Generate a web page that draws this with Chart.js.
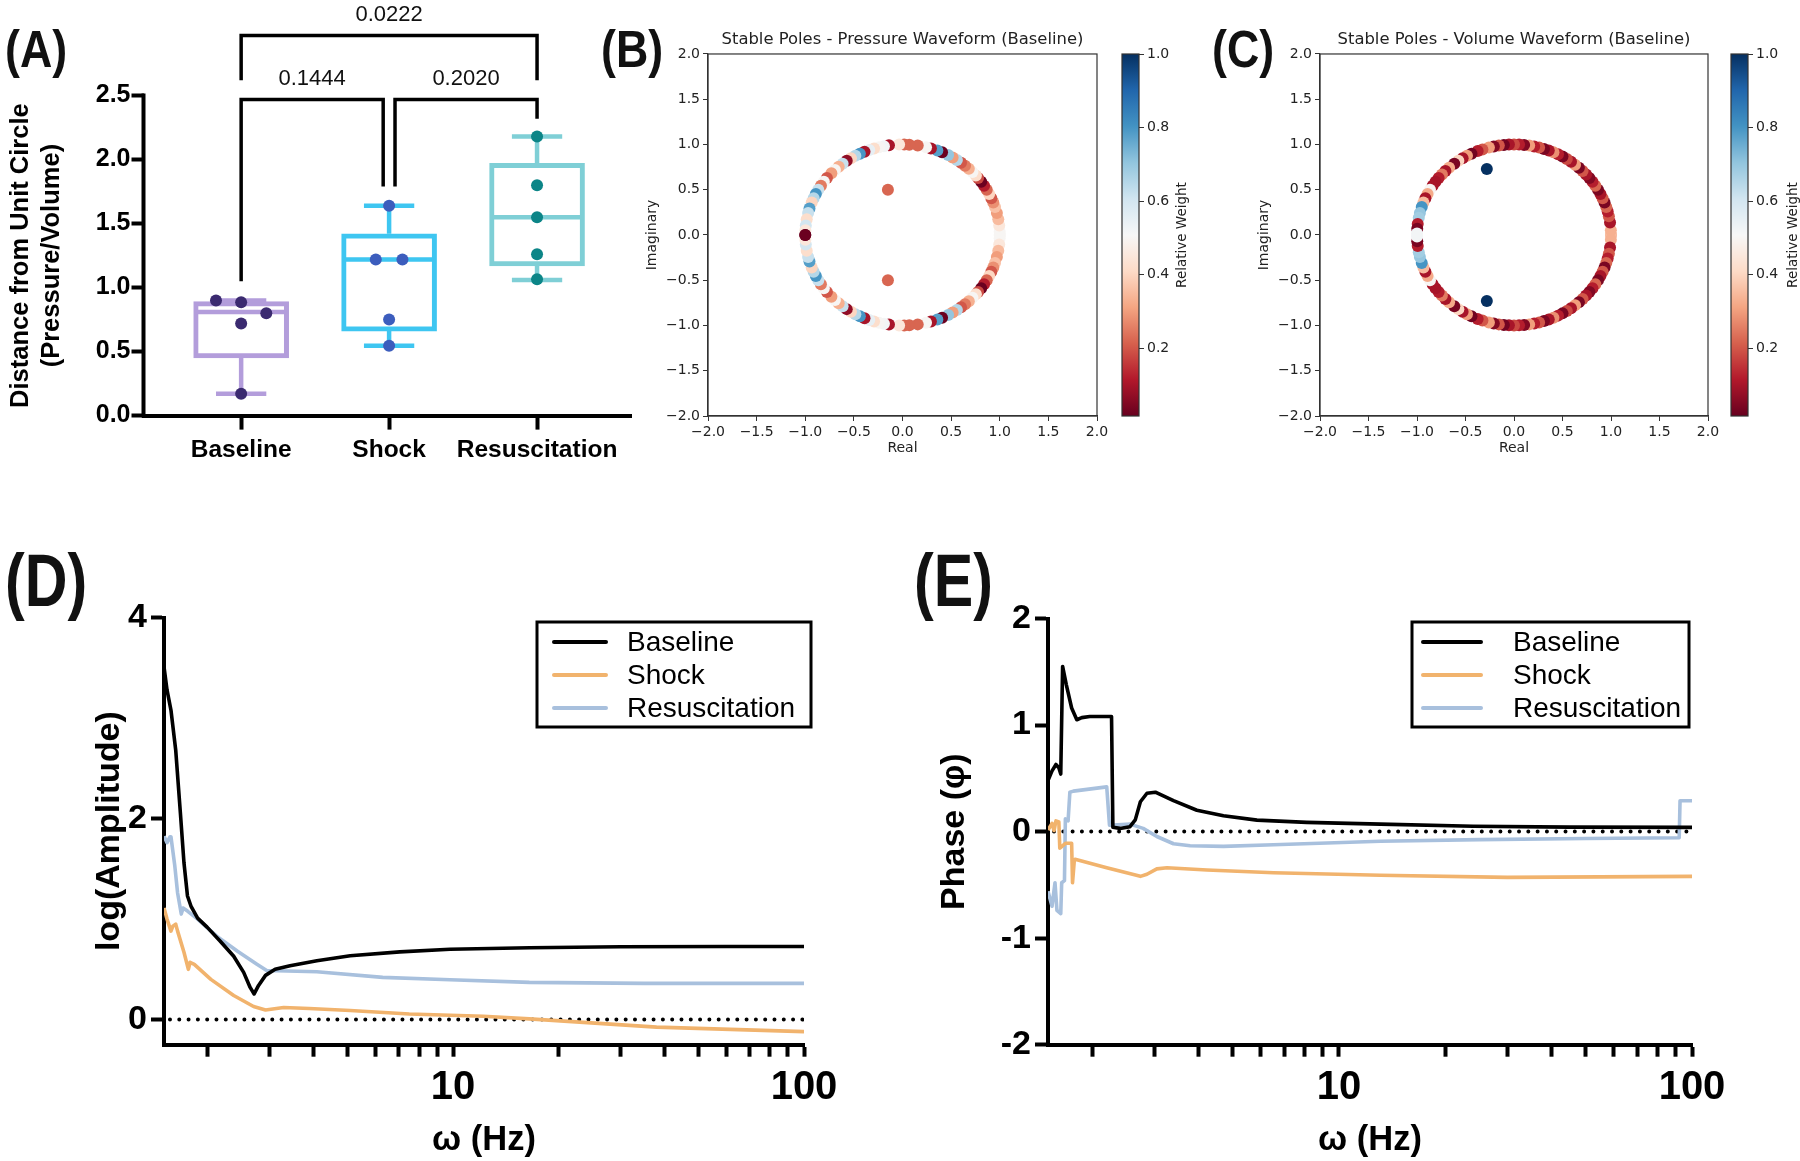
<!DOCTYPE html>
<html>
<head>
<meta charset="utf-8">
<script src="https://cdn.jsdelivr.net/npm/chart.js@4.4.1/dist/chart.umd.min.js"></script>
<style>
  body { margin: 0; background: #fff; width: 1800px; height: 1161px; position: relative; overflow: hidden; }
  canvas { position: absolute; }
  .tag { position: absolute; font-family: 'Liberation Sans', Arial, sans-serif; font-weight: bold; line-height: 1; transform-origin: left top; color: #111; }
</style>
</head>
<body>
<div class="tag" style="left:5px;top:23px;font-size:52px;transform:scaleX(0.86)">(A)</div>
<div class="tag" style="left:601px;top:23px;font-size:52px;transform:scaleX(0.86)">(B)</div>
<div class="tag" style="left:1212px;top:23px;font-size:52px;transform:scaleX(0.86)">(C)</div>
<div class="tag" style="left:5px;top:544px;font-size:74px;transform:scaleX(0.8)">(D)</div>
<div class="tag" style="left:914px;top:544px;font-size:74px;transform:scaleX(0.8)">(E)</div>

<canvas id="cA" width="650" height="470" style="left:0;top:0"></canvas>
<canvas id="cB" width="470" height="440" style="left:640px;top:20px"></canvas>
<canvas id="cBbar" width="100" height="440" style="left:1110px;top:20px"></canvas>
<canvas id="cC" width="470" height="440" style="left:1252px;top:20px"></canvas>
<canvas id="cCbar" width="81" height="440" style="left:1719px;top:20px"></canvas>
<canvas id="cD" width="870" height="601" style="left:0;top:560px"></canvas>
<canvas id="cE" width="850" height="601" style="left:900px;top:560px"></canvas>

<script>
// ---------- (A) distance from unit circle, box plots ----------
const groups = ['Baseline', 'Shock', 'Resuscitation'];
const boxQ1 = [0.45, 0.66, 1.17];
const boxMedian = [0.81, 1.22, 1.55];
const boxQ3 = [0.89, 1.42, 1.97];
const boxMin = [0.17, 0.545, 1.06];
const boxMax = [0.90, 1.64, 2.18];
const baselinePts = [0.90, 0.886, 0.80, 0.72, 0.17];
const shockPts = [1.64, 1.22, 1.22, 0.75, 0.545];
const resusPts = [2.18, 1.80, 1.55, 1.26, 1.065];
const ptJitter = [[-0.17, 0, 0.17, 0, 0], [0, -0.09, 0.09, 0, 0], [0, 0, 0, 0, 0]];
const yTicksA = [0, 0.5, 1, 1.5, 2, 2.5];
const yTitleA = ['Distance from Unit Circle', '(Pressure/Volume)'];

// significance brackets
const bracketPairs = [[0, 1], [1, 2], [0, 2]];
const bracketTop = [2.47, 2.47, 2.97];
const bracketLegEnds = [[1.05, 1.79], [1.79, 2.32], [2.62, 2.62]];
const pLabels = ['0.1444', '0.2020', '0.0222'];

// ---------- (B)/(C) stable poles: [angle on unit circle in degrees, relative weight] ----------
// upper half plane; poles come in conjugate pairs
const polesPressure = [
  [0, 0.5], [2, 0.5], [6, 0.45], [10, 0.35], [14, 0.3], [18, 0.36], [21, 0.28], [24, 0.2], [27, 0.4],
  [30, 0.22], [33, 0.12], [36, 0.02], [39, 0.18], [41, 0.42], [44, 0.5], [47, 0.33], [50, 0.25],
  [53, 0.2], [56, 0.65], [59, 0.3], [62, 0.7], [66, 0.02], [69, 0.78], [73, 0.1], [76, 0.5],
  [81, 0.22], [86, 0.22], [89, 0.22], [92, 0.45], [98, 0.1], [101, 0.52], [104, 0.5], [107, 0.42],
  [110, 0.55], [113, 0.1], [116, 0.8], [119, 0.65], [122, 0.4], [125, 0.07], [128, 0.62],
  [131, 0.33], [134, 0.5], [137, 0.3], [141, 0.2], [144, 0.5], [147, 0.25], [150, 0.62],
  [153, 0.8], [156, 0.65], [159, 0.4], [163, 0.78], [166, 0.62], [170, 0.42], [174, 0.6],
  [177, 0.45], [180, 0.02]
];
const innerPressure = [[-0.15, 0.5, 0.22]];   // [real, imaginary, weight]

const polesVolume = [
  [0, 0.35], [3, 0.33], [8, 0.1], [12, 0.2], [15, 0.12], [18, 0.22], [21, 0.04], [24, 0.2], [27, 0.1],
  [30, 0.04], [33, 0.22], [36, 0.12], [39, 0.05], [42, 0.1], [45, 0.2], [48, 0.04], [51, 0.3],
  [54, 0.1], [57, 0.18], [60, 0.04], [63, 0.12], [66, 0.28], [69, 0.1], [72, 0.04], [75, 0.2],
  [78, 0.12], [81, 0.3], [84, 0.05], [87, 0.12], [90, 0.18], [93, 0.1], [96, 0.03], [99, 0.2],
  [102, 0.05], [105, 0.3], [109, 0.2], [112, 0.12], [116, 0.03], [119, 0.3], [122, 0.1],
  [125, 0.4], [128, 0.04], [132, 0.32], [135, 0.1], [138, 0.25], [141, 0.12], [144, 0.1],
  [147, 0.1], [150, 0.5], [153, 0.32], [156, 0.1], [159, 0.35], [162, 0.8], [166, 0.7],
  [169, 0.68], [173, 0.12], [176, 0.04], [179, 0.52]
];
const innerVolume = [[-0.28, 0.73, 1.0]];

const axisTicksPoles = [-2, -1.5, -1, -0.5, 0, 0.5, 1, 1.5, 2];
const cbMin = 0.015, cbMax = 1.0;
const cbTicks = [0.2, 0.4, 0.6, 0.8, 1.0];

// ---------- (D) log(Amplitude) vs frequency ----------
const ampHzBaseline = [1.5, 1.53, 1.57, 1.62, 1.67, 1.71, 1.75, 1.79, 1.87, 1.99, 2.17, 2.37, 2.53, 2.64, 2.71, 2.79, 2.92, 3.11, 3.43, 4.09, 5.09, 7.05, 9.8, 16.5, 30, 60, 100];
const ampBaseline = [3.51, 3.28, 3.08, 2.68, 2.06, 1.56, 1.23, 1.13, 1.01, 0.92, 0.78, 0.63, 0.47, 0.32, 0.255, 0.34, 0.44, 0.50, 0.535, 0.585, 0.635, 0.674, 0.70, 0.715, 0.725, 0.727, 0.727];
const ampHzShock = [1.5, 1.53, 1.57, 1.59, 1.62, 1.64, 1.71, 1.76, 1.78, 1.83, 2.04, 2.37, 2.70, 2.92, 3.29, 3.89, 5.09, 7.5, 12.2, 16.5, 38, 100];
const ampShock = [1.11, 1.0, 0.88, 0.93, 0.95, 0.88, 0.67, 0.50, 0.57, 0.55, 0.40, 0.24, 0.13, 0.096, 0.12, 0.11, 0.09, 0.056, 0.033, 0.007, -0.075, -0.12];
const ampHzResus = [1.5, 1.53, 1.56, 1.57, 1.61, 1.64, 1.68, 1.70, 1.75, 1.87, 2.12, 2.43, 2.76, 2.95, 3.15, 4.09, 6.3, 9.8, 16.5, 35, 100];
const ampResus = [1.825, 1.76, 1.82, 1.82, 1.53, 1.26, 1.05, 1.11, 1.08, 1.0, 0.83, 0.68, 0.55, 0.486, 0.486, 0.476, 0.42, 0.397, 0.37, 0.36, 0.36];
const ampTicks = [0, 2, 4];

// ---------- (E) phase vs frequency ----------
const phaseHzBaseline = [1.5, 1.54, 1.58, 1.61, 1.63, 1.65, 1.69, 1.75, 1.81, 1.87, 1.97, 2.27, 2.29, 2.40, 2.56, 2.65, 2.74, 2.86, 3.02, 3.40, 3.96, 4.71, 5.86, 8.11, 13.1, 24, 45, 100];
const phaseBaseline = [0.48, 0.57, 0.63, 0.60, 0.54, 1.55, 1.38, 1.16, 1.05, 1.07, 1.08, 1.08, 0.04, 0.03, 0.046, 0.11, 0.28, 0.36, 0.37, 0.29, 0.20, 0.148, 0.108, 0.087, 0.07, 0.05, 0.042, 0.04];
const phaseHzShock = [1.5, 1.54, 1.56, 1.58, 1.61, 1.62, 1.64, 1.68, 1.75, 1.76, 1.78, 1.79, 2.20, 2.74, 2.86, 3.05, 3.26, 4.23, 6.53, 13.1, 30, 100];
const phaseShock = [0.015, 0.077, 0.01, 0.1, 0.09, -0.155, -0.14, -0.11, -0.11, -0.48, -0.28, -0.26, -0.34, -0.42, -0.40, -0.35, -0.34, -0.36, -0.386, -0.41, -0.43, -0.42];
const phaseHzResus = [1.5, 1.54, 1.57, 1.59, 1.63, 1.64, 1.67, 1.68, 1.71, 1.73, 1.77, 2.20, 2.24, 2.56, 2.79, 3.05, 3.40, 3.79, 4.71, 6.53, 13.1, 25, 50, 92, 92.5, 100];
const phaseResus = [-0.56, -0.70, -0.48, -0.74, -0.77, -0.48, -0.46, 0.12, 0.10, 0.37, 0.38, 0.42, 0.06, 0.07, 0.03, -0.046, -0.114, -0.133, -0.139, -0.124, -0.09, -0.075, -0.065, -0.058, 0.29, 0.29];
const phaseTicks = [-2, -1, 0, 1, 2];

const zeroLineHz = [1.56, 99];
const freqTicks = [2, 3, 4, 5, 6, 7, 8, 9, 10, 20, 30, 40, 50, 60, 70, 80, 90, 100];
const freqLabels = { 10: '10', 100: '100' };

// ---------- shared styling ----------
const PRISM = "'Liberation Sans', Arial, sans-serif";
const MPL = "'DejaVu Sans', sans-serif";
const boxColors = ['#b39ddb', '#3ec6f1', '#7fcfd6'];
const dotColors = ['#3b2a70', '#3c5dbd', '#0c8587'];
const lineColors = { Baseline: '#000000', Shock: '#f1b36d', Resuscitation: '#a8c0dd' };
const RDBU = ['#67001f', '#b2182b', '#d6604d', '#f4a582', '#fddbc7', '#f7f7f7', '#d1e5f0', '#92c5de', '#4393c3', '#2166ac', '#053061'];

function hexRgb(h) { return [1, 3, 5].map(i => parseInt(h.slice(i, i + 2), 16)); }
function weightColor(w) {
  let t = (w - cbMin) / (cbMax - cbMin);
  t = Math.min(1, Math.max(0, t));
  const f = t * (RDBU.length - 1);
  const k = Math.min(RDBU.length - 2, Math.floor(f));
  const u = f - k;
  const a = hexRgb(RDBU[k]), b = hexRgb(RDBU[k + 1]);
  return 'rgb(' + a.map((v, j) => Math.round(v + (b[j] - v) * u)).join(',') + ')';
}
const mplTick = v => (v < 0 ? '\u2212' : '') + Math.abs(v).toFixed(1);

// the chart area is placed by layout padding only, not by label overhang
function noPad(s) { s.paddingLeft = 0; s.paddingRight = 0; s.paddingTop = 0; s.paddingBottom = 0; }

// ================= (A) =================
const CAP = 0.17, HALF = 0.3, LEG = 0.04;

function whiskerData(i) {
  const gap = { x: i, y: null };
  return [
    { x: i, y: boxQ3[i] }, { x: i, y: boxMax[i] }, gap,
    { x: i - CAP, y: boxMax[i] }, { x: i + CAP, y: boxMax[i] }, gap,
    { x: i, y: boxQ1[i] }, { x: i, y: boxMin[i] }, gap,
    { x: i - CAP, y: boxMin[i] }, { x: i + CAP, y: boxMin[i] }, gap,
    { x: i - HALF, y: boxMedian[i] }, { x: i + HALF, y: boxMedian[i] }
  ];
}

function bracketX(pair) {
  const [a, b] = pair;
  return [a + (a === 1 ? LEG : 0), b - (b === 1 ? LEG : 0)];
}

function bracketData() {
  const pts = [];
  bracketPairs.forEach((pair, k) => {
    const [xa, xb] = bracketX(pair);
    pts.push({ x: xa, y: bracketLegEnds[k][0] }, { x: xa, y: bracketTop[k] },
             { x: xb, y: bracketTop[k] }, { x: xb, y: bracketLegEnds[k][1] }, { x: xb, y: null });
  });
  return pts;
}

const groupPoints = [baselinePts, shockPts, resusPts];
const datasetsA = [];
groups.forEach((g, i) => {
  datasetsA.push({
    type: 'scatter', order: 0,
    data: groupPoints[i].map((v, k) => ({ x: i + ptJitter[i][k], y: v })),
    backgroundColor: dotColors[i], borderWidth: 0, pointRadius: 6, pointHoverRadius: 6
  });
  datasetsA.push({
    type: 'line', order: 1, data: whiskerData(i), borderColor: boxColors[i],
    borderWidth: 4.5, pointRadius: 0, spanGaps: false, borderCapStyle: 'butt'
  });
});
datasetsA.push({
  type: 'line', order: 1, data: bracketData(), borderColor: '#000', borderWidth: 3.5,
  pointRadius: 0, spanGaps: false, borderJoinStyle: 'miter'
});
datasetsA.push({
  type: 'bar', order: 2,
  data: groups.map((g, i) => ({ x: i, y: [boxQ1[i], boxQ3[i]] })),
  backgroundColor: '#fff', borderColor: boxColors, borderWidth: 5, borderSkipped: false,
  barThickness: 95
});

const axisA = {
  id: 'axisA',
  afterDraw(chart) {
    const { ctx, chartArea, scales: { x, y } } = chart;
    ctx.save();
    // y axis line stops at the last labelled tick
    ctx.strokeStyle = '#000';
    ctx.lineWidth = 4;
    ctx.beginPath();
    ctx.moveTo(chartArea.left, y.getPixelForValue(0) + 2);
    ctx.lineTo(chartArea.left, y.getPixelForValue(yTicksA[yTicksA.length - 1]) - 2);
    ctx.stroke();
    // p-values over the brackets
    ctx.fillStyle = '#111';
    ctx.font = '22px ' + PRISM;
    ctx.textAlign = 'center';
    ctx.textBaseline = 'middle';
    bracketPairs.forEach((pair, k) => {
      const [xa, xb] = bracketX(pair);
      ctx.fillText(pLabels[k], x.getPixelForValue((xa + xb) / 2), y.getPixelForValue(bracketTop[k] + 0.16));
    });
    // two line y title centred on the axis
    ctx.translate(0, y.getPixelForValue(1.25));
    ctx.rotate(-Math.PI / 2);
    ctx.font = 'bold 25.5px ' + PRISM;
    ctx.fillStyle = '#000';
    ctx.fillText(yTitleA[0], 0, 21);
    ctx.fillText(yTitleA[1], 0, 52);
    ctx.restore();
  }
};

new Chart(document.getElementById('cA'), {
  type: 'scatter',
  data: { datasets: datasetsA },
  options: {
    responsive: false, animation: false, events: [],
    layout: { padding: { top: 1.5, right: 19 } },
    plugins: { legend: { display: false }, tooltip: { enabled: false } },
    scales: {
      x: {
        type: 'linear', min: -0.66, max: 2.635, offset: false,
        afterBuildTicks: s => { s.ticks = groups.map((g, i) => ({ value: i })); },
        afterFit: s => { s.height = 54.4; noPad(s); },
        ticks: { callback: v => groups[v], autoSkip: false, maxRotation: 0, padding: 6, color: '#000',
                 font: { family: PRISM, size: 24.5, weight: 'bold' } },
        grid: { drawOnChartArea: false, offset: false, tickLength: 14, tickWidth: 4, color: '#000' },
        border: { color: '#000', width: 4 }
      },
      y: {
        type: 'linear', min: 0, max: 3.2,
        afterBuildTicks: s => { s.ticks = yTicksA.map(v => ({ value: v })); },
        afterFit: s => { s.width = 143.5; noPad(s); },
        ticks: { callback: v => v.toFixed(1), padding: 1, color: '#000',
                 font: { family: PRISM, size: 25, weight: 'bold' } },
        grid: { drawOnChartArea: false, tickLength: 12, tickWidth: 4, color: '#000' },
        border: { display: false }
      }
    }
  },
  plugins: [axisA]
});

// ================= (B) / (C) =================
const frame = {
  id: 'frame',
  afterDatasetsDraw(chart) {
    const { ctx, chartArea: a } = chart;
    ctx.save();
    ctx.strokeStyle = '#333';
    ctx.lineWidth = 1.2;
    ctx.strokeRect(a.left, a.top, a.right - a.left, a.bottom - a.top);
    ctx.restore();
  }
};

function poleData(ring, inner) {
  const pts = [];
  ring.forEach(([deg, w]) => {
    const re = Math.cos(deg * Math.PI / 180), im = Math.sin(deg * Math.PI / 180);
    pts.push({ x: re, y: im, w }, { x: re, y: -im, w });
  });
  inner.forEach(([re, im, w]) => pts.push({ x: re, y: im, w }, { x: re, y: -im, w }));
  return pts;
}

function polesAxis(title, afterFit) {
  return {
    type: 'linear', min: -2, max: 2,
    afterBuildTicks: s => { s.ticks = axisTicksPoles.map(v => ({ value: v })); },
    afterFit: s => { afterFit(s); noPad(s); },
    ticks: { callback: mplTick, maxRotation: 0, padding: 3, color: '#222', font: { family: MPL, size: 14 } },
    grid: { drawOnChartArea: false, tickLength: 5, color: '#333' },
    border: { color: '#333', width: 1.2 },
    title: { display: true, text: title, color: '#222', font: { family: MPL, size: 14 }, padding: { top: 4, bottom: 3 } }
  };
}

function polesChart(id, title, ring, inner, padRight) {
  const pts = poleData(ring, inner);
  new Chart(document.getElementById(id), {
    type: 'scatter',
    data: { datasets: [{ data: pts, backgroundColor: pts.map(p => weightColor(p.w)), borderWidth: 0,
                         pointRadius: 6, pointHoverRadius: 6 }] },
    options: {
      responsive: false, animation: false, events: [],
      layout: { padding: { top: 10, right: padRight } },
      plugins: {
        legend: { display: false }, tooltip: { enabled: false },
        title: { display: true, text: title, fullSize: false, color: '#222',
                 font: { family: MPL, size: 16.4, weight: 'normal' }, padding: { top: 0, bottom: 4.3 } }
      },
      scales: {
        x: polesAxis('Real', s => { s.height = 44; }),
        y: polesAxis('Imaginary', s => { s.width = 68; })
      }
    },
    plugins: [frame]
  });
}

function cbGradient(c) {
  const chart = c.chart;
  if (!chart.chartArea) return '#fff';
  const y = chart.scales.y;
  const g = chart.ctx.createLinearGradient(0, y.getPixelForValue(cbMin), 0, y.getPixelForValue(cbMax));
  RDBU.forEach((col, k) => g.addColorStop(k / (RDBU.length - 1), col));
  return g;
}

const cbTitle = {
  id: 'cbTitle',
  afterDraw(chart, args, opts) {
    const { ctx, chartArea: a } = chart;
    ctx.save();
    ctx.translate(opts.x, (a.top + a.bottom) / 2);
    ctx.rotate(-Math.PI / 2);
    ctx.fillStyle = '#222';
    ctx.font = '13.5px ' + MPL;
    ctx.textAlign = 'center';
    ctx.textBaseline = 'middle';
    ctx.fillText('Relative Weight', 0, 0);
    ctx.restore();
  }
};

function colorbar(id, width, titleX) {
  new Chart(document.getElementById(id), {
    type: 'bar',
    data: { labels: [''], datasets: [{ data: [[cbMin, cbMax]], backgroundColor: cbGradient, borderWidth: 0,
                                       categoryPercentage: 1, barPercentage: 1 }] },
    options: {
      responsive: false, animation: false, events: [],
      layout: { padding: { left: 12, top: 34, bottom: 44 } },
      plugins: { legend: { display: false }, tooltip: { enabled: false }, cbTitle: { x: titleX } },
      scales: {
        x: { display: false },
        y: {
          position: 'right', min: cbMin, max: cbMax,
          afterBuildTicks: s => { s.ticks = cbTicks.map(v => ({ value: v })); },
          afterFit: s => { s.width = width - 29; noPad(s); },
          ticks: { callback: v => v.toFixed(1), padding: 3, color: '#222', font: { family: MPL, size: 14 } },
          grid: { drawOnChartArea: false, tickLength: 5, color: '#333' },
          border: { display: false }
        }
      }
    },
    plugins: [frame, cbTitle]
  });
}

polesChart('cB', 'Stable Poles - Pressure Waveform (Baseline)', polesPressure, innerPressure, 13);
colorbar('cBbar', 100, 72);
polesChart('cC', 'Stable Poles - Volume Waveform (Baseline)', polesVolume, innerVolume, 14);
colorbar('cCbar', 81, 74);

// ================= (D) / (E) =================
const boxLegend = {
  id: 'boxLegend',
  afterDraw(chart, args, o) {
    const ctx = chart.ctx;
    ctx.save();
    ctx.lineWidth = 3;
    ctx.strokeStyle = '#000';
    ctx.strokeRect(o.x, o.y, o.w, o.h);
    chart.data.datasets.filter(d => d.label).forEach((d, k) => {
      const yy = o.y + 20 + k * 33;
      ctx.beginPath();
      ctx.lineWidth = 4;
      ctx.lineCap = 'round';
      ctx.strokeStyle = d.borderColor;
      ctx.moveTo(o.x + o.l0, yy);
      ctx.lineTo(o.x + o.l1, yy);
      ctx.stroke();
      ctx.fillStyle = '#000';
      ctx.font = '28px ' + PRISM;
      ctx.textBaseline = 'middle';
      ctx.fillText(d.label, o.x + o.tx, yy + 1);
    });
    ctx.restore();
  }
};

function series(label, hz, vals) {
  return { label, data: hz.map((f, i) => ({ x: f, y: vals[i] })), borderColor: lineColors[label],
           borderWidth: 3.6, pointRadius: 0, tension: 0, borderJoinStyle: 'round' };
}

function freqChart(id, opts) {
  new Chart(document.getElementById(id), {
    type: 'line',
    data: {
      datasets: [
        ...opts.series,
        { data: zeroLineHz.map(f => ({ x: f, y: 0 })), borderColor: '#000', borderWidth: 4,
          borderDash: [0, 9.3], borderCapStyle: 'round', pointRadius: 0 }
      ]
    },
    options: {
      responsive: false, animation: false, events: [],
      layout: { padding: { top: opts.top, right: opts.right } },
      plugins: { legend: { display: false }, tooltip: { enabled: false }, boxLegend: opts.legend },
      scales: {
        x: {
          type: 'logarithmic', min: 1.5, max: 100,
          afterBuildTicks: s => { s.ticks = freqTicks.map(v => ({ value: v })); },
          afterFit: s => { s.height = 601 - opts.bottom; noPad(s); },
          ticks: { callback: v => freqLabels[v] || '', autoSkip: false, maxRotation: 0, padding: 7, color: '#000',
                   font: { family: PRISM, size: 40, weight: 'bold' } },
          grid: { drawOnChartArea: false, tickLength: 12, tickWidth: 4, color: '#000' },
          border: { color: '#000', width: 4 },
          title: { display: true, text: '\u03c9 (Hz)', color: '#000', font: { family: PRISM, size: 34.5, weight: 'bold' },
                   padding: { top: 0, bottom: 0 } }
        },
        y: {
          type: 'linear', min: opts.ymin, max: opts.ymax,
          afterBuildTicks: s => { s.ticks = opts.yticks.map(v => ({ value: v })); },
          afterFit: s => { s.width = opts.left; noPad(s); },
          ticks: { padding: 4, color: '#000', font: { family: PRISM, size: 34, weight: 'bold' } },
          grid: { drawOnChartArea: false, tickLength: 13, tickWidth: 4, color: '#000' },
          border: { color: '#000', width: 4 },
          title: { display: true, text: opts.ytitle, color: '#000', font: { family: PRISM, size: opts.titleSize, weight: 'bold' },
                   padding: { top: opts.titlePad, bottom: 0 } }
        }
      }
    },
    plugins: [boxLegend]
  });
}

freqChart('cD', {
  series: [series('Baseline', ampHzBaseline, ampBaseline), series('Shock', ampHzShock, ampShock),
           series('Resuscitation', ampHzResus, ampResus)],
  ymin: -0.25, ymax: 4, yticks: ampTicks, ytitle: 'log(Amplitude)', titleSize: 34,
  top: 57.6, right: 66, left: 164, bottom: 484.7, titlePad: 89,
  legend: { x: 537, y: 62, w: 274, h: 105, l0: 17, l1: 69, tx: 90 }
});

freqChart('cE', {
  series: [series('Baseline', phaseHzBaseline, phaseBaseline), series('Shock', phaseHzShock, phaseShock),
           series('Resuscitation', phaseHzResus, phaseResus)],
  ymin: -2, ymax: 2, yticks: phaseTicks, ytitle: 'Phase (\u03c6)', titleSize: 34,
  top: 58.5, right: 58, left: 148, bottom: 484.7, titlePad: 34.6,
  legend: { x: 512, y: 62, w: 277, h: 105, l0: 11, l1: 69, tx: 101 }
});
</script>
</body>
</html>
